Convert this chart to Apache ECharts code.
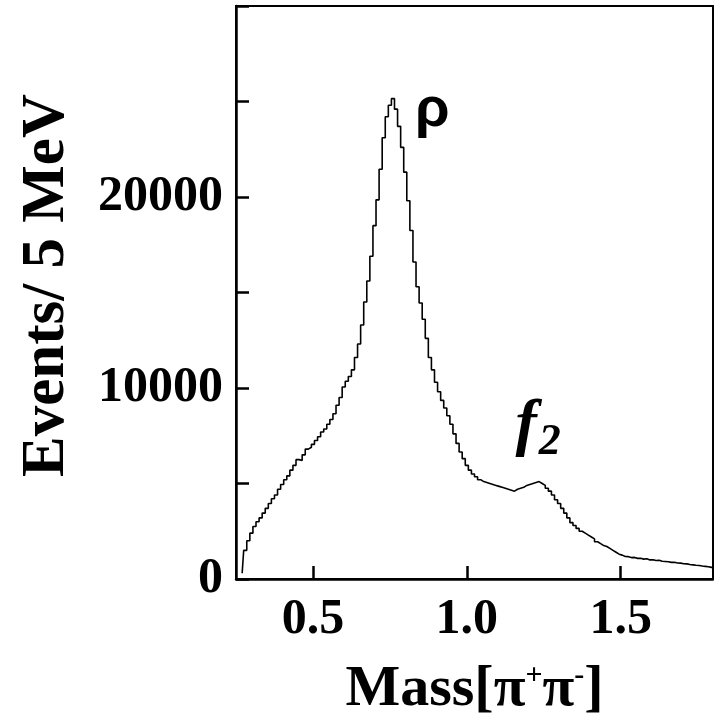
<!DOCTYPE html>
<html>
<head>
<meta charset="utf-8">
<script src="https://cdn.jsdelivr.net/npm/echarts@6/dist/echarts.min.js"></script>
<style>
  html, body { margin: 0; padding: 0; background: #fff; }
  #chart { width: 714px; height: 724px; }
</style>
</head>
<body>
<div id="chart"></div>
<script>
// pi+ pi- invariant mass spectrum, 10 MeV sampling of the 5 MeV histogram
const massStart = 0.27;
const massStep = 0.01;
const events = [
  300, 1500, 2000, 2400, 2750, 3000, 3200, 3450, 3700, 3950,      // 0.27 - 0.36
  4200, 4400, 4700, 4950, 5200, 5400, 5700, 5950, 6250, 6200,     // 0.37 - 0.46
  6500, 6800, 6900, 7050, 7250, 7450, 7700, 7850, 8100, 8350,     // 0.47 - 0.56
  8650, 9100, 9500, 10050, 10350, 10600, 10950, 11600, 12300, 13300, // 0.57 - 0.66
  14500, 15600, 16900, 18500, 19850, 21450, 23100, 24200, 24800, 25150, // 0.67 - 0.76
  24600, 23700, 22600, 21300, 19800, 18250, 16600, 15300, 14450, 13600, // 0.77 - 0.86
  12600, 11600, 10950, 10300, 9800, 9350, 8950, 8550, 8100, 7600,  // 0.87 - 0.96
  7100, 6650, 6300, 5950, 5700, 5500, 5350, 5200, 5100, 5050,      // 0.97 - 1.06
  5000, 4950, 4900, 4850, 4800, 4750, 4700, 4650, 4600, 4700,      // 1.07 - 1.16
  4750, 4800, 4900, 4950, 5000, 5050, 5100, 5000, 4900, 4750,      // 1.17 - 1.26
  4600, 4400, 4150, 3950, 3700, 3450, 3200, 2950, 2800, 2650,      // 1.27 - 1.36
  2500, 2400, 2300, 2200, 2100, 1950, 1850, 1750, 1700, 1600,      // 1.37 - 1.46
  1500, 1400, 1300, 1250, 1180, 1170, 1120, 1130, 1080, 1090,      // 1.47 - 1.56
  1040, 1060, 1000, 1010, 970, 980, 930, 920, 900, 870,            // 1.57 - 1.66
  880, 840, 830, 800, 790, 760, 740, 720, 710, 680,                // 1.67 - 1.76
  660, 640, 610, 580                                               // 1.77 - 1.80
];

const xTicks = [0.5, 1.0, 1.5];
const yTickStep = 5000;
const yLabelValues = [0, 10000, 20000];

// resonance labels placed in data coordinates
const peakLabels = [
  { name: 'rho', mass: 0.888, count: 24550, text: 'ρ' },
  { name: 'f2', mass: 1.232, count: 7960, text: '{f|f}{s|2}' }
];

const histData = events.map((v, i) => [+(massStart + i * massStep).toFixed(2), v]);

const serif = '"Liberation Serif", "Times New Roman", serif';

const chart = echarts.init(document.getElementById('chart'), null, { renderer: 'canvas' });

chart.setOption({
  animation: false,
  backgroundColor: '#fff',
  grid: {
    left: 236, right: 1, top: 6, bottom: 145,
    show: true, borderColor: '#000', borderWidth: 2, backgroundColor: 'transparent'
  },
  xAxis: {
    type: 'value',
    min: 0.25, max: 1.8,
    name: 'Mass[π{sup|+}π{sup|-}]',
    nameLocation: 'middle',
    nameGap: 82,
    nameTextStyle: {
      fontFamily: serif, fontWeight: 'bold', fontSize: 58, color: '#000',
      rich: {
        sup: { fontFamily: serif, fontWeight: 'bold', fontSize: 30, color: '#000', verticalAlign: 'top', padding: [0, 0, 26, 0] }
      }
    },
    axisLine: { lineStyle: { color: '#000', width: 2.5 } },
    axisTick: { show: true, inside: true, length: 13, lineStyle: { color: '#000', width: 2.5 }, customValues: xTicks },
    axisLabel: {
      customValues: xTicks,
      formatter: v => v.toFixed(1),
      margin: 16,
      fontFamily: serif, fontWeight: 'bold', fontSize: 50, color: '#000'
    },
    splitLine: { show: false }
  },
  yAxis: {
    type: 'value',
    min: 0, max: 30000, interval: yTickStep,
    name: 'Events/ 5 MeV',
    nameLocation: 'middle',
    nameGap: 158,
    nameRotate: 90,
    nameTextStyle: { fontFamily: serif, fontWeight: 'bold', fontSize: 61, color: '#000', padding: [0, 0, 0, 14] },
    axisLine: { show: true, lineStyle: { color: '#000', width: 2.5 } },
    axisTick: { show: true, inside: true, length: 13, lineStyle: { color: '#000', width: 2.5 } },
    axisLabel: {
      formatter: v => (yLabelValues.indexOf(v) >= 0 ? String(v) : ''),
      margin: 13,
      fontFamily: serif, fontWeight: 'bold', fontSize: 50, color: '#000'
    },
    splitLine: { show: false }
  },
  series: [
    {
      name: 'events',
      type: 'line',
      step: 'middle',
      data: histData,
      showSymbol: false,
      lineStyle: { color: '#000', width: 1.6 },
      clip: true
    },
    {
      name: 'labels',
      type: 'scatter',
      symbolSize: 1,
      itemStyle: { color: 'rgba(0,0,0,0)', opacity: 1 },
      data: peakLabels.map(p => ({ name: p.name, value: [p.mass, p.count], text: p.text })),
      label: {
        show: true,
        position: 'inside',
        color: '#000',
        opacity: 1,
        formatter: p => p.data.text,
        fontFamily: '"Liberation Sans", Arial, sans-serif',
        fontWeight: 'bold',
        fontSize: 56,
        rich: {
          f: { fontFamily: serif, fontStyle: 'italic', fontWeight: 'bold', fontSize: 64, color: '#000' },
          s: { fontFamily: serif, fontStyle: 'italic', fontWeight: 'bold', fontSize: 44, color: '#000', padding: [32, 0, 0, 2] }
        }
      }
    }
  ]
});
</script>
</body>
</html>
